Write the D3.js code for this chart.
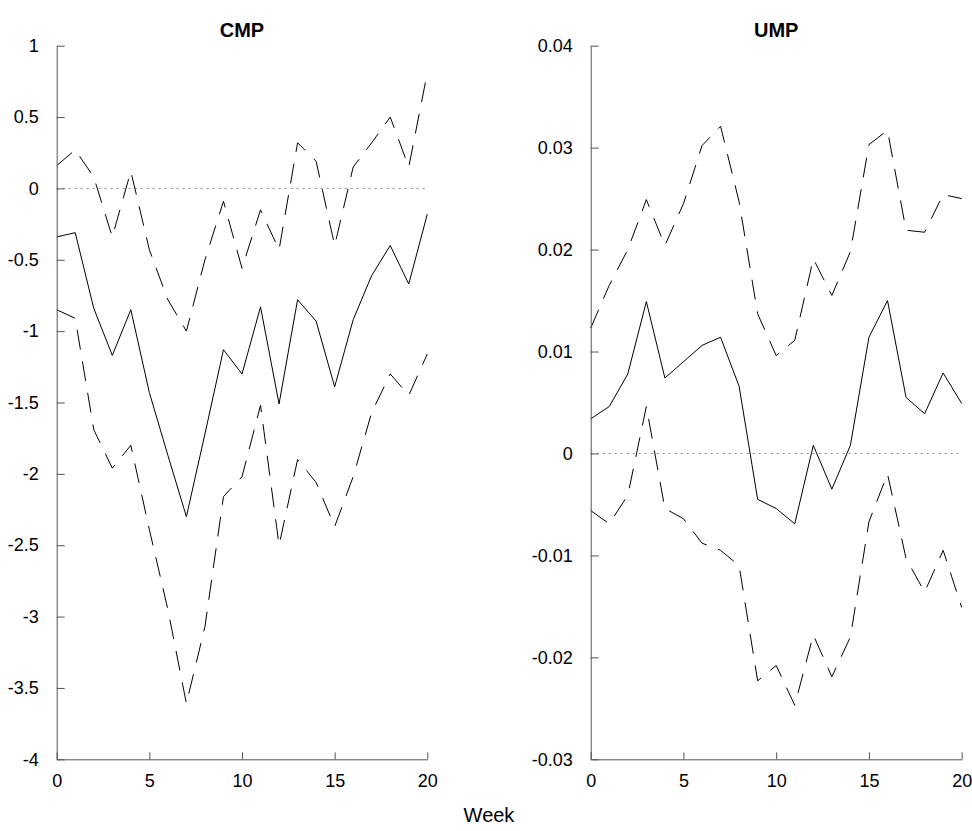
<!DOCTYPE html>
<html>
<head>
<meta charset="utf-8">
<script src="https://cdn.jsdelivr.net/npm/d3@7"></script>
<style>
  body { margin: 0; background: #fff; }
  svg text { font-family: "Liberation Sans", Arial, sans-serif; fill: #000; }
</style>
</head>
<body>
<svg id="chart" width="972" height="831"></svg>
<script>
// weeks 0..20
var weeks = d3.range(0, 21);

// CMP panel
var cmpMid = [-0.34, -0.31, -0.84, -1.17, -0.85, -1.43, -1.87, -2.30, -1.72, -1.13, -1.30,
              -0.83, -1.51, -0.78, -0.93, -1.39, -0.92, -0.61, -0.40, -0.67, -0.18];
var cmpUp  = [0.16, 0.27, 0.08, -0.34, 0.12, -0.43, -0.78, -1.00, -0.50, -0.09, -0.56,
              -0.15, -0.43, 0.32, 0.19, -0.40, 0.15, 0.32, 0.50, 0.15, 0.81];
var cmpLo  = [-0.85, -0.91, -1.69, -1.96, -1.80, -2.39, -2.95, -3.61, -3.07, -2.16, -2.02,
              -1.52, -2.50, -1.90, -2.06, -2.37, -2.02, -1.57, -1.30, -1.45, -1.16];
var cmpTicks = [1, 0.5, 0, -0.5, -1, -1.5, -2, -2.5, -3, -3.5, -4];

// UMP panel
var umpMid = [0.0034, 0.0046, 0.0078, 0.0149, 0.0074, 0.0090, 0.0106, 0.0114, 0.0066, -0.0045, -0.0054,
              -0.0069, 0.0008, -0.0035, 0.0008, 0.0114, 0.0150, 0.0055, 0.0039, 0.0079, 0.0049];
var umpUp  = [0.0123, 0.0165, 0.0200, 0.0249, 0.0204, 0.0245, 0.0302, 0.0321, 0.0247, 0.0137, 0.0096,
              0.0111, 0.0191, 0.0155, 0.0198, 0.0303, 0.0317, 0.0219, 0.0217, 0.0254, 0.0250];
var umpLo  = [-0.0056, -0.0069, -0.0041, 0.0046, -0.0054, -0.0064, -0.0088, -0.0095, -0.0110, -0.0223, -0.0208,
              -0.0247, -0.0178, -0.0219, -0.0180, -0.0067, -0.0020, -0.0103, -0.0136, -0.0095, -0.0151];
var umpTicks = [0.04, 0.03, 0.02, 0.01, 0, -0.01, -0.02, -0.03];

var xTicks = [0, 5, 10, 15, 20];

var svg = d3.select("#chart");
var plotTop = 45.7, plotBottom = 759.3;

function panel(left, right, title, domain, ticks, mid, up, lo) {
  var x = d3.scaleLinear().domain([0, 20]).range([left, right]);
  var y = d3.scaleLinear().domain(domain).range([plotBottom, plotTop]);
  var g = svg.append("g");

  // zero reference line
  g.append("line")
    .attr("x1", x(0)).attr("x2", x(20))
    .attr("y1", y(0)).attr("y2", y(0))
    .attr("stroke", "#8a8a8a").attr("stroke-width", 1)
    .attr("stroke-dasharray", "2,4");

  var line = d3.line()
    .x(function(d, i) { return x(weeks[i]); })
    .y(function(d) { return y(d); });

  [[up, "20,12"], [lo, "20,12"], [mid, null]].forEach(function(s) {
    g.append("path")
      .attr("d", line(s[0]))
      .attr("fill", "none")
      .attr("stroke", "#000")
      .attr("stroke-width", 1)
      .attr("stroke-dasharray", s[1]);
  });

  // axes, ticks pointing inward
  var yAxis = d3.axisLeft(y).tickValues(ticks).tickSizeInner(-8).tickSizeOuter(0)
    .tickPadding(18).tickFormat(function(d) { return String(+d.toFixed(2)); });
  var xAxis = d3.axisBottom(x).tickValues(xTicks).tickSizeInner(-7).tickSizeOuter(0)
    .tickPadding(15).tickFormat(d3.format("d"));

  var ya = g.append("g").attr("transform", "translate(" + left + ",0)").call(yAxis);
  var xa = g.append("g").attr("transform", "translate(0," + plotBottom + ")").call(xAxis);
  [ya, xa].forEach(function(a) {
    a.select(".domain").attr("stroke", "#555");
    a.selectAll(".tick line").attr("stroke", "#555");
    a.selectAll("text").attr("font-size", 18)
      .attr("font-family", "Liberation Sans, Arial, sans-serif").attr("fill", "#000");
  });

  g.append("text")
    .attr("x", (left + right) / 2).attr("y", 36.5)
    .attr("text-anchor", "middle")
    .attr("font-size", 20).attr("font-weight", "bold")
    .text(title);
}

panel(56.7, 427.3, "CMP", [-4, 1], cmpTicks, cmpMid, cmpUp, cmpLo);
panel(590.7, 961.7, "UMP", [-0.03, 0.04], umpTicks, umpMid, umpUp, umpLo);

svg.append("text")
  .attr("x", 489).attr("y", 822)
  .attr("text-anchor", "middle")
  .attr("font-size", 20)
  .text("Week");
</script>
</body>
</html>
